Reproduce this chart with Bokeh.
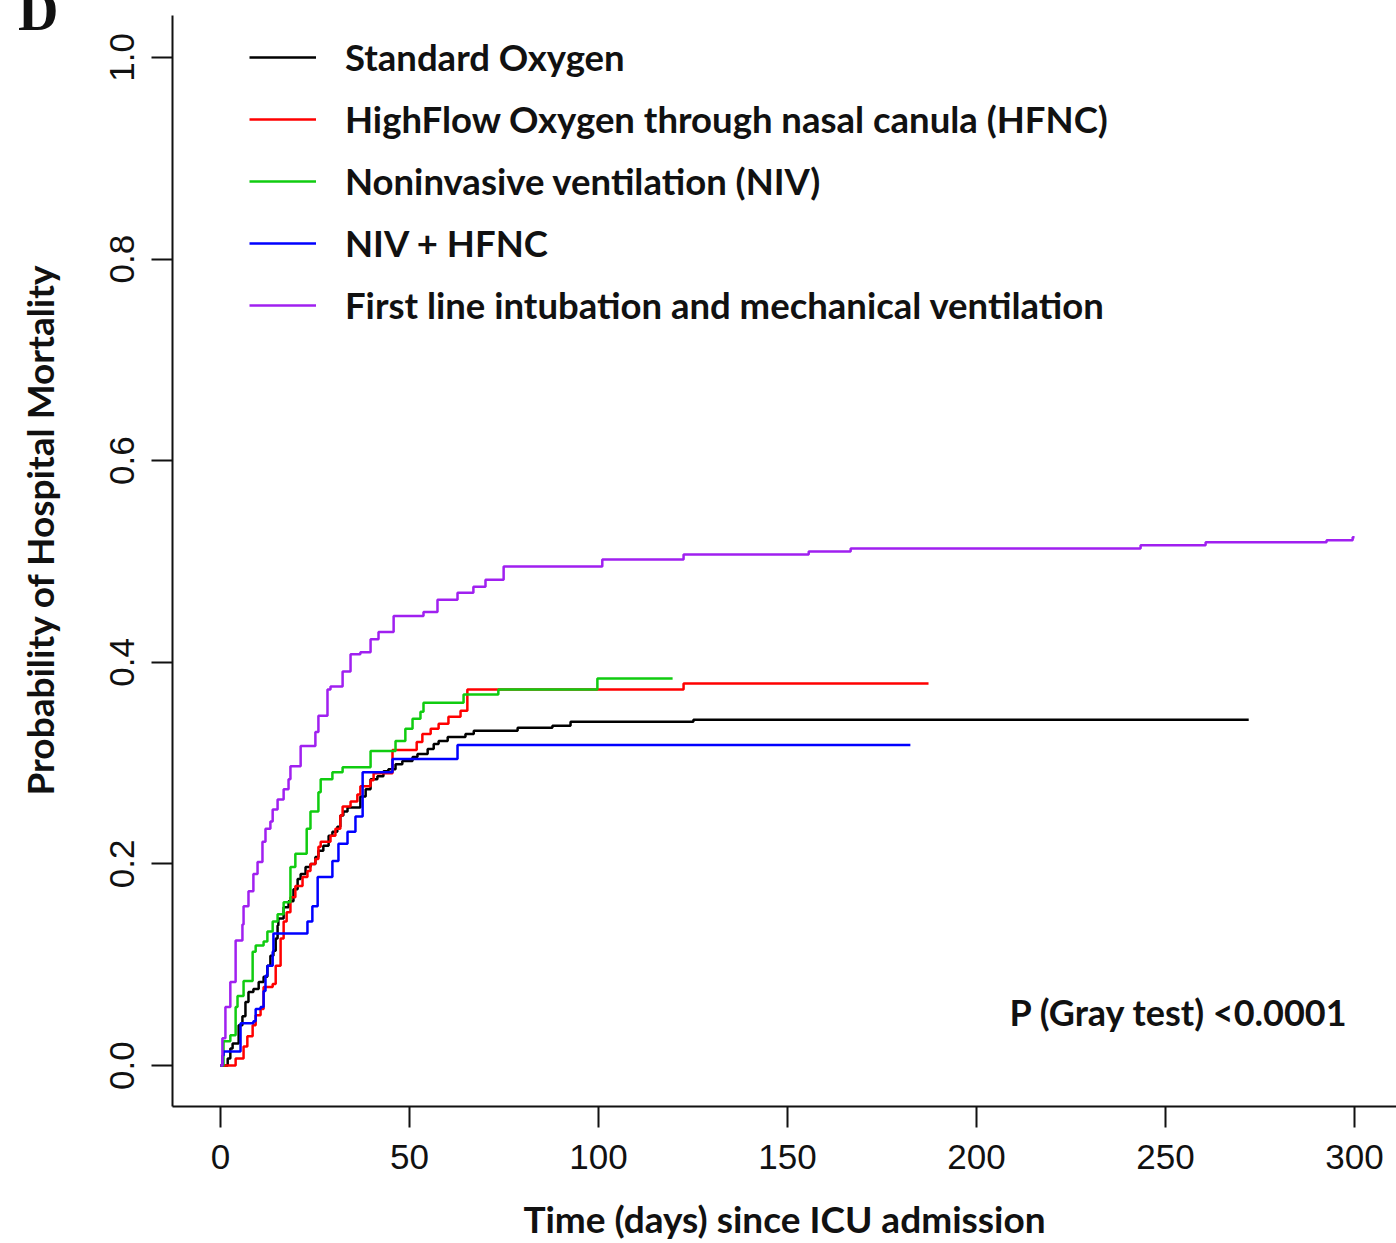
import numpy as np
from bokeh.plotting import figure
from bokeh.models import (Range1d, FixedTicker, Legend, LegendItem, Label, Title, Div,
                          NumeralTickFormatter)
from bokeh.embed import file_html
from bokeh.resources import INLINE

# ---- data ----
std_x = [0, 1.9, 2.6, 3.2, 4.8, 5.8, 6.6, 7.4, 8.7, 10.1, 11.4, 12.4, 13.2, 14.0, 14.6, 15.1, 15.3,
         16.7, 18.0, 19.3, 20.4, 21.2, 22.5, 23.8, 25.1, 25.9, 27.2, 28.6, 29.6, 30.9, 31.7, 32.5,
         33.6, 37.0, 38.4, 39.7, 41.5, 43.1, 44.4, 46.3, 48.1, 50.8, 52.1, 54.8, 56.4, 57.7, 60.1,
         64.8, 67.0, 78.6, 87.8, 92.6, 125.1, 272.0]
std_y = [0, 0.007, 0.017, 0.022, 0.040, 0.049, 0.063, 0.073, 0.076, 0.083, 0.088, 0.099, 0.109, 0.114,
         0.126, 0.139, 0.146, 0.157, 0.163, 0.175, 0.185, 0.190, 0.197, 0.200, 0.207, 0.213, 0.218,
         0.228, 0.232, 0.237, 0.248, 0.252, 0.256, 0.267, 0.274, 0.284, 0.287, 0.292, 0.294, 0.299,
         0.302, 0.306, 0.309, 0.314, 0.319, 0.322, 0.326, 0.329, 0.332, 0.335, 0.337, 0.341, 0.343, 0.343]

hfnc_x = [0, 4.0, 6.1, 7.1, 8.5, 9.3, 10.6, 11.4, 13.8, 14.6, 15.9, 16.7, 17.5, 18.5, 19.8, 21.7,
          23.0, 23.8, 25.1, 25.9, 26.5, 29.1, 30.4, 31.7, 32.3, 34.4, 36.2, 37.0, 39.7, 40.5, 45.5,
          51.9, 53.4, 55.6, 57.7, 60.3, 63.5, 65.3, 122.5, 187.3]
hfnc_y = [0, 0.007, 0.019, 0.029, 0.040, 0.050, 0.056, 0.078, 0.081, 0.099, 0.126, 0.143, 0.152,
          0.167, 0.178, 0.187, 0.193, 0.200, 0.205, 0.217, 0.222, 0.228, 0.235, 0.248, 0.257, 0.262,
          0.269, 0.277, 0.283, 0.290, 0.313, 0.321, 0.329, 0.334, 0.339, 0.346, 0.352, 0.373, 0.379, 0.379]

niv_x = [0, 0.8, 2.6, 4.0, 4.5, 6.1, 8.5, 9.3, 11.4, 12.4, 13.8, 15.1, 16.7, 18.5, 19.8, 22.8, 23.8,
         25.9, 26.5, 29.6, 32.3, 39.7, 46.3, 48.9, 50.8, 52.9, 53.7, 64.3, 73.5, 99.7, 119.6]
niv_y = [0, 0.024, 0.030, 0.058, 0.069, 0.084, 0.113, 0.119, 0.123, 0.133, 0.143, 0.150, 0.162, 0.197,
         0.210, 0.235, 0.252, 0.271, 0.284, 0.291, 0.296, 0.312, 0.322, 0.334, 0.344, 0.351, 0.360,
         0.368, 0.373, 0.384, 0.384]

nivh_x = [0, 0.5, 0.8, 5.3, 8.7, 9.3, 10.6, 11.4, 11.9, 12.4, 13.8, 14.0, 23.0, 24.3, 25.7, 29.6,
          31.2, 33.6, 35.7, 37.6, 45.5, 62.7, 182.5]
nivh_y = [0, 0.010, 0.014, 0.042, 0.044, 0.056, 0.058, 0.074, 0.089, 0.099, 0.113, 0.131, 0.143, 0.158,
          0.187, 0.203, 0.220, 0.232, 0.247, 0.291, 0.304, 0.318, 0.318]

intub_x = [0, 0.5, 1.3, 2.6, 4.0, 5.8, 6.1, 7.4, 8.7, 9.8, 11.1, 11.9, 13.2, 13.8, 15.1, 16.7, 18.0,
           18.5, 21.2, 25.1, 25.9, 28.3, 29.1, 32.3, 34.4, 37.0, 39.7, 41.8, 45.8, 53.7, 57.4, 62.7,
           66.9, 70.1, 74.9, 101.0, 122.5, 155.6, 166.7, 243.4, 260.6, 292.6, 299.5, 300.0]
intub_y = [0, 0.027, 0.058, 0.083, 0.124, 0.140, 0.158, 0.173, 0.190, 0.202, 0.222, 0.235, 0.242,
           0.254, 0.264, 0.274, 0.284, 0.297, 0.317, 0.331, 0.347, 0.373, 0.376, 0.391, 0.408, 0.410,
           0.423, 0.430, 0.446, 0.450, 0.462, 0.469, 0.475, 0.482, 0.495, 0.502, 0.507, 0.510, 0.513,
           0.516, 0.519, 0.521, 0.524, 0.524]

series_names = ["Standard Oxygen",
                "HighFlow Oxygen through nasal canula (HFNC)",
                "Noninvasive ventilation (NIV)",
                "NIV + HFNC",
                "First line intubation and mechanical ventilation"]
series_colors = ["#000000", "#FF0000", "#10CC10", "#0000FF", "#A020F0"]

x_ticks = [0, 50, 100, 150, 200, 250, 300]
y_ticks = [0.0, 0.2, 0.4, 0.6, 0.8, 1.0]

# ---- figure ----
p = figure(width=1396, height=1243, output_backend="svg", toolbar_location=None,
           x_range=Range1d(-12.7, 311.1), y_range=Range1d(-0.0406, 1.0416),
           min_border_left=172, min_border_right=0, min_border_top=15, min_border_bottom=135)
p.outline_line_color = None
p.xgrid.visible = False
p.ygrid.visible = False
p.background_fill_color = "white"
p.border_fill_color = "white"

xs = [std_x, hfnc_x, niv_x, nivh_x, intub_x]
ys = [std_y, hfnc_y, niv_y, nivh_y, intub_y]
items = []
for xx, yy, c, n in zip(xs, ys, series_colors, series_names):
    r = p.step(xx, yy, mode="after", line_color=c, line_width=2.5)
    items.append(LegendItem(label=n, renderers=[r]))

legend = Legend(items=items, location=(77, 779), orientation="vertical",
                glyph_width=67, glyph_height=44, label_height=44, label_standoff=29,
                spacing=18, padding=0, margin=0,
                label_text_font="Lato", label_text_font_style="bold",
                label_text_font_size="36.5px", label_text_color="#111111",
                background_fill_alpha=0, border_line_color=None)
p.add_layout(legend)

for ax in (p.xaxis[0], p.yaxis[0]):
    ax.axis_line_width = 2
    ax.axis_line_color = "#111111"
    ax.major_tick_line_width = 2
    ax.major_tick_line_color = "#111111"
    ax.major_tick_out = 21
    ax.major_tick_in = 0
    ax.minor_tick_line_color = None
    ax.major_label_text_font = "Liberation Sans"
    ax.major_label_text_font_size = "35px"
    ax.major_label_text_color = "#111111"
    ax.major_label_standoff = 17

p.xaxis.ticker = FixedTicker(ticks=x_ticks)
p.yaxis.ticker = FixedTicker(ticks=y_ticks)
p.yaxis.formatter = NumeralTickFormatter(format="0.0")
p.yaxis.major_label_orientation = "vertical"
# blank axis label only used to widen the axis panel (pushes the title outward)
p.yaxis.axis_label = " "
p.yaxis.axis_label_text_font_size = "10px"
p.yaxis.axis_label_standoff = 32

p.xaxis.axis_label = "Time (days) since ICU admission"
p.xaxis.axis_label_text_font = "Lato"
p.xaxis.axis_label_text_font_style = "bold"
p.xaxis.axis_label_text_font_size = "37px"
p.xaxis.axis_label_text_color = "#111111"
p.xaxis.axis_label_standoff = 24

ytitle = Title(text="Probability of Hospital Mortality", align="left", offset=311,
               standoff=0, text_font="Lato", text_font_style="bold",
               text_font_size="37px", text_color="#111111")
p.add_layout(ytitle, "left")

ptxt = Label(x=298.4, y=0.0535, text="P (Gray test) <0.0001", text_align="right",
             text_baseline="middle", text_font="Lato", text_font_style="bold",
             text_font_size="36px", text_color="#111111")
p.add_layout(ptxt)

panel_letter = Div(text="D", styles={"position": "absolute", "left": "18px", "top": "-17px",
                                     "font-family": "Liberation Serif", "font-weight": "bold",
                                     "font-size": "56px", "line-height": "1", "color": "#111111",
                                     "z-index": "10"})
p.elements.append(panel_letter)

open("out.html", "w").write(file_html(p, INLINE))
